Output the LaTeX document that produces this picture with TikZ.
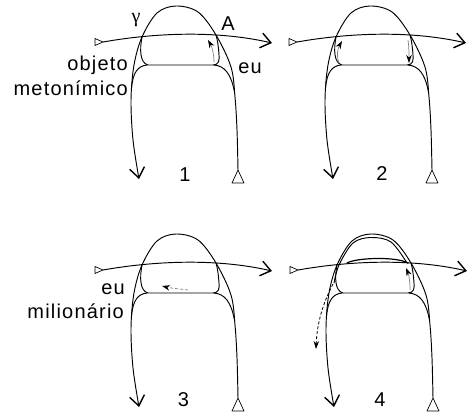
\documentclass[tikz,border=0pt]{standalone}
\usepackage{fontspec}
\newfontfamily\lblfont[LetterSpace=6]{Liberation Sans}
\newfontfamily\grfont{Liberation Serif}
\usetikzlibrary{arrows.meta}
\tikzset{
  curve/.style={line width=0.95pt, line cap=round, line join=round},
  barb/.style={-{Straight Barb[length=10pt,width=15pt,line width=1.4pt]}},
  lbl/.style={inner sep=0pt, font=\lblfont\fontsize{20}{24}\selectfont},
  inarrow/.style={gray, line width=0.7pt, -{Stealth[length=8pt,width=5.5pt,color=black]}},
  dasharrow/.style={inarrow, dash pattern=on 3pt off 2pt}
}
\newcommand\basepanel[3]{%
  \begin{scope}[shift={(#1,#2)}]
    % horizontal vector
    \coordinate (h#3s) at (103,42);
    \coordinate (h#3e) at (272,43);
    \draw[curve, barb] (h#3s) .. controls (160,32) and (220,31) .. (h#3e);
    \draw[curve, line width=0.7pt] (95,38.5) -- (h#3s) -- (95,45.5) -- cycle;
    % arch with legs
    \draw[curve, barb] plot[smooth, tension=0.55] coordinates {(238,170) (237,130) (235,97) (231,67) (216,35) (198,12) (176,6) (157,13) (142,37) (134,65) (131,100) (133,140) (139,179)};
    \draw[curve, line width=0.7pt] (232,183) -- (244,183) -- (238,170) -- cycle;
    % rectangle
    \draw[curve] (142,37) .. controls (139.5,50) and (140,63) .. (148,65) -- (213,65) .. controls (219,65) and (219.5,60) .. (219,55) .. controls (218.5,47) and (217.5,40) .. (216,35);
    % shoulders
    \draw[curve] (147,65) .. controls (138,66) and (133,72) .. (131.5,88);
    \draw[curve] (214,65) .. controls (225,66) and (231,74) .. (234.5,92);
  \end{scope}}
\begin{document}
\begin{tikzpicture}[x=1pt,y=-1pt]
\useasboundingbox (0,0) rectangle (476,415);
% ---------- panel 1
\basepanel{0}{0}{a}
\draw[inarrow] (214,62) .. controls (214,54) and (212,47) .. (208,40);
\node[lbl] (gamma) at (136,20) {\grfont γ};
\node[lbl] (A) at (228,24) {A};
\node[lbl] (eu1) at (250,68) {eu};
\node[lbl, anchor=base east] (objeto) at (128,70) {objeto};
\node[lbl, anchor=base east] (meto) at (128,95) {metonímico};
\node[lbl] (n1) at (185,175) {1};
% ---------- panel 2
\basepanel{194}{0}{b}
\begin{scope}[shift={(194,0)}]
\draw[inarrow] (145,63) .. controls (142,55) and (144,48) .. (148,41);
\draw[inarrow] (214,40) .. controls (215,47) and (215,53) .. (215,63);
\end{scope}
\node[lbl] (n2) at (382,174) {2};
% ---------- panel 3
\basepanel{0}{228}{c}
\begin{scope}[shift={(0,228)}]
\draw[dasharrow] (188,62) .. controls (180,61) and (170,60) .. (162,58);
\end{scope}
\node[lbl, anchor=base east] (eu3) at (125,294) {eu};
\node[lbl, anchor=base east] (milion) at (124,318) {milionário};
\node[lbl] (n3) at (183.5,400) {3};
% ---------- panel 4
\basepanel{195}{228}{d}
\begin{scope}[shift={(195,228)}]
\draw[curve] plot[smooth, tension=0.55] coordinates {(212,35) (196,14) (176,9.5) (158,15) (144,37) (139,55)};
\draw[curve, line width=1.2pt] (152,35) .. controls (160,30) and (200,28) .. (213,35);
\draw[inarrow] (215,62) .. controls (215,54) and (214,47) .. (211,40);
\draw[dasharrow, black, line width=0.8pt] (138,56) .. controls (128,75) and (122,95) .. (121,121);
\end{scope}
\node[lbl] (n4) at (380,400) {4};
\end{tikzpicture}
\end{document}
